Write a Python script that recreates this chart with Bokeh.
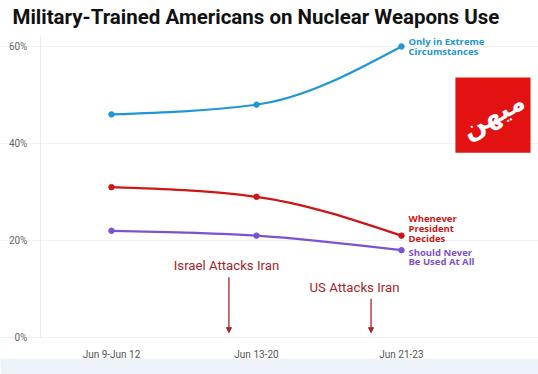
from bokeh.plotting import figure
from bokeh.models import FixedTicker, Range1d, Label, BoxAnnotation, Arrow, NormalHead, ColumnDataSource
from bokeh.core.properties import value
from bokeh.embed import file_html
from bokeh.resources import INLINE

# ---- data ----
categories = ["Jun 9-Jun 12", "Jun 13-20", "Jun 21-23"]
extreme = [46, 48, 60]
president = [31, 29, 21]
never = [22, 21, 18]
series_labels = [["Only in Extreme", "Circumstances"],
                 ["Whenever", "President", "Decides"],
                 ["Should Never", "Be Used At All"]]
y_ticks = [0, 20, 40, 60]
events = ["Israel Attacks Iran", "US Attacks Iran"]
title = "Military-Trained Americans on Nuclear Weapons Use"

BLUE = "#2196d6"
RED = "#cf1515"
PURPLE = "#7b52d3"
EVENT = "#a3262a"

x = list(range(len(categories)))

# the plotting frame covers the whole canvas; axes are pinned inside it
X_LEFT, X_RIGHT = -0.7655, 2.945
Y_BOTTOM, Y_TOP = -7.63, 69.48
AXIS_X = -0.49
Y_AXIS_TOP = 62.06

p = figure(width=538, height=374, output_backend="svg", toolbar_location=None,
           x_range=Range1d(X_LEFT, X_RIGHT), y_range=Range1d(Y_BOTTOM, Y_TOP),
           min_border=0)
p.outline_line_color = None
p.background_fill_color = "white"
p.border_fill_color = "white"

# light band at the bottom of the image
p.add_layout(BoxAnnotation(top=-4.33, fill_color="#eef2f9", fill_alpha=1.0, line_color=None,
                           level="underlay"))

# title
p.add_layout(Label(x=-0.683, y=65.98, text=title, text_align="left", text_baseline="middle",
                   text_font="Roboto", text_font_size="20.5px", text_font_style="bold",
                   text_color="#111111"))

# axes
p.xaxis.fixed_location = 0
p.xaxis.ticker = FixedTicker(ticks=x)
p.xaxis.major_label_overrides = {i: c for i, c in zip(x, categories)}
p.xaxis.axis_line_color = None
p.xaxis.major_tick_line_color = None
p.xaxis.minor_tick_line_color = None
p.xaxis.major_label_text_font = "Roboto"
p.xaxis.major_label_text_font_size = "10px"
p.xaxis.major_label_text_color = "#555555"
p.xaxis.major_label_standoff = 6

p.yaxis.fixed_location = AXIS_X
p.yaxis.ticker = FixedTicker(ticks=y_ticks)
p.yaxis.bounds = (0, Y_AXIS_TOP)
p.yaxis.major_label_overrides = {t: f"{t}%" for t in y_ticks}
p.yaxis.axis_line_color = "#e9e9e9"
p.yaxis.major_tick_line_color = None
p.yaxis.minor_tick_line_color = None
p.yaxis.major_label_text_font = "Roboto"
p.yaxis.major_label_text_font_size = "10px"
p.yaxis.major_label_text_color = "#666666"
p.yaxis.major_label_standoff = 7

p.xgrid.grid_line_color = None
p.ygrid.grid_line_color = "#f1f1f1"
p.ygrid.bounds = (AXIS_X, 2.35)


def monotone_beziers(xs, ys):
    # d3 curveMonotoneX tangents
    n = len(xs)
    h = [xs[i + 1] - xs[i] for i in range(n - 1)]
    s = [(ys[i + 1] - ys[i]) / h[i] for i in range(n - 1)]
    m = [0.0] * n
    for i in range(1, n - 1):
        pp = (s[i - 1] * h[i] + s[i] * h[i - 1]) / (h[i - 1] + h[i])
        sg = (1 if s[i - 1] > 0 else -1 if s[i - 1] < 0 else 0) + (1 if s[i] > 0 else -1 if s[i] < 0 else 0)
        m[i] = sg * min(abs(s[i - 1]), abs(s[i]), 0.5 * abs(pp))
    m[0] = (3 * s[0] - m[1]) / 2
    m[-1] = (3 * s[-1] - m[-2]) / 2
    d = dict(x0=[], y0=[], x1=[], y1=[], cx0=[], cy0=[], cx1=[], cy1=[])
    for i in range(n - 1):
        dx = h[i] / 3
        d["x0"].append(xs[i]); d["y0"].append(ys[i])
        d["x1"].append(xs[i + 1]); d["y1"].append(ys[i + 1])
        d["cx0"].append(xs[i] + dx); d["cy0"].append(ys[i] + m[i] * dx)
        d["cx1"].append(xs[i + 1] - dx); d["cy1"].append(ys[i + 1] - m[i + 1] * dx)
    return ColumnDataSource(d)


# label first-line offsets (px, downward) relative to the last point
series = [(extreme, BLUE, -5), (president, RED, -17), (never, PURPLE, 2)]
for (ys, col, yoff), lines in zip(series, series_labels):
    p.bezier(x0="x0", y0="y0", x1="x1", y1="y1", cx0="cx0", cy0="cy0", cx1="cx1", cy1="cy1",
             source=monotone_beziers(x, ys), line_color=col, line_width=2.2)
    p.scatter(x, ys, size=5.5, color=col)
    for j, ln in enumerate(lines):
        p.text(x=[x[-1]], y=[ys[-1]], text=[ln], x_offset=7, y_offset=yoff + j * 9.7,
               text_font=value("Open Sans"), text_font_style="bold", text_font_size="9.5px",
               text_color=col, text_baseline="middle")

# event annotations
ev_text_x = [0.793, 1.676]
ev_text_y = [14.85, 10.3]
ev_arrow_x = [0.81, 1.79]
ev_arrow_top = [12.4, 8.0]
for t, tx, ty, ax, at in zip(events, ev_text_x, ev_text_y, ev_arrow_x, ev_arrow_top):
    p.add_layout(Label(x=tx, y=ty, text=t, text_align="center", text_baseline="middle",
                       text_font="Roboto", text_font_size="13.2px", text_color=EVENT))
    p.add_layout(Arrow(x_start=ax, y_start=at, x_end=ax, y_end=1.0, line_color=EVENT, line_width=1.3,
                       end=NormalHead(size=5, fill_color=EVENT, line_color=EVENT)))

# watermark logo
p.add_layout(BoxAnnotation(left=2.372, right=2.89, bottom=38.1, top=53.6,
                           fill_color="#e31212", fill_alpha=1.0, line_color=None))
p.add_layout(Label(x=2.631, y=45.85, text="میهن", text_align="center", text_baseline="middle",
                   text_font="DejaVu Sans", text_font_size="26px", text_font_style="bold",
                   text_color="white", angle=0.5))

open("out.html", "w").write(file_html(p, INLINE))
